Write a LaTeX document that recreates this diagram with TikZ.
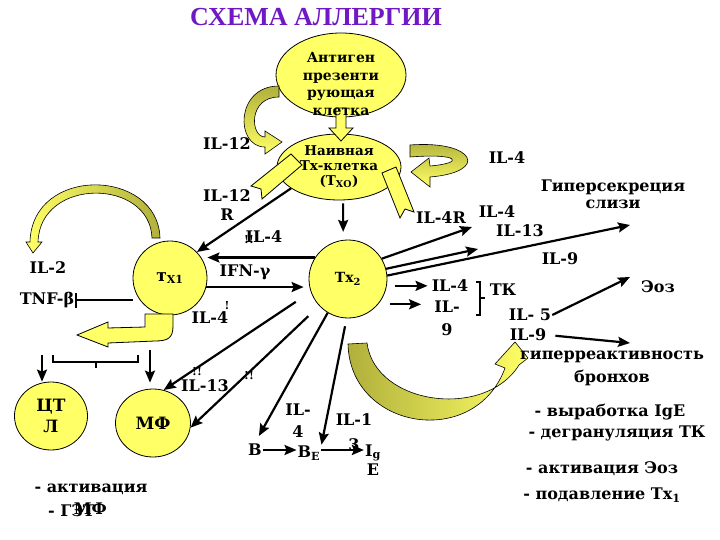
\documentclass[tikz,border=0pt]{standalone}
\usepackage{fontspec}
\setmainfont{DejaVu Serif}
\newfontfamily\titlefont{Liberation Serif}
\usetikzlibrary{shapes.geometric,arrows.meta,positioning,calc}

\definecolor{cellyellow}{RGB}{255,255,102}
\definecolor{bandolive}{RGB}{176,176,60}
\definecolor{titleviolet}{RGB}{112,24,196}

\tikzset{
  cell/.style={draw=black, line width=0.8pt, fill=cellyellow, inner sep=0pt},
  band/.style={draw=black, line width=0.6pt},
  lbl/.style={font=\bfseries\fontsize{16}{19}\selectfont, inner sep=1pt, align=center},
  excl/.style={font=\bfseries\fontsize{11}{11}\selectfont, inner sep=0pt},
  arr/.style={line width=2.2pt, -{Stealth[length=12pt,width=10pt,inset=2pt]}},
  titletext/.style={font=\titlefont\bfseries\fontsize{26}{28}\selectfont, text=titleviolet}
}

\begin{document}
\begin{tikzpicture}[x=1pt, y=-1pt]
\useasboundingbox (0,0) rectangle (720,540);

% Title
\node[titletext] (title) at (316,17) {СХЕМА АЛЛЕРГИИ};

% APC and naive cell
\node[cell, ellipse, minimum width=130pt, minimum height=84pt] (apc) at (341,75) {};
\node[cell, ellipse, minimum width=124pt, minimum height=66pt, align=center,
  font=\bfseries\fontsize{13.5}{15}\selectfont] (naive) at (339,167) {Наивная\\Тх-клетка\\(Т\textsubscript{ХО})};
\draw[cell] (336,108) -- (346,108) -- (346,128) -- (353,128) -- (341,141) -- (329,128) -- (336,128) -- cycle;
\node[align=center, font=\bfseries\fontsize{14}{17.7}\selectfont] (apctext) at (341,84) {Антиген\\презенти\\рующая\\клетка};

% curved arrows round the naive cell
\draw[band, top color=bandolive, bottom color=cellyellow] (279,86) .. controls (235,86) and (235,147) .. (265,147)
  -- (265,154) -- (282,142) -- (265,131) -- (265,137) .. controls (250,137) and (248,97) .. (279,97) -- cycle;
\draw[band, top color=bandolive, bottom color=cellyellow] (410,145) .. controls (475,140) and (490,172) .. (430,177)
  -- (430,187) -- (411,172) -- (429,158) -- (430,166) .. controls (465,163) and (460,153) .. (410,157) -- cycle;
% receptors
\draw[cell] (291,154) -- (302,165) -- (262,199) -- (261,189) -- (251,186) -- cycle;
\draw[cell] (382,173) -- (396,167) -- (414,212) -- (405,209) -- (400,218) -- cycle;

\node[lbl] (il12a) at (227,144) {IL-12};
\node[lbl] (il4a) at (507,158) {IL-4};
\node[lbl] (il12r) at (227,205) {IL-12\\R};
\node[lbl] (il4r) at (441,218) {IL-4R};

% Th1 and Th2
\node[cell, circle, minimum size=74pt, font=\bfseries\fontsize{17}{17}\selectfont] (tx1) at (170,278) {т\textsubscript{\fontsize{11}{11}\selectfont Х1}};
\node[cell, circle, minimum size=78pt, font=\bfseries\fontsize{14}{14}\selectfont] (tx2) at (348,279) {Тх\textsubscript{2}};

\draw[arr] (naive.204) -- (tx1.44);
\draw[arr, shorten <=3pt, shorten >=8pt] (naive.-83) -- (tx2.97);
\draw[arr] (tx2.147) -- (tx2.147 -| tx1.east);
\draw[arr, shorten >=5pt] (tx1.-14) -- (tx1.-14 -| tx2.west);

\node[lbl] (il4b) at (264,237) {IL-4};
\node[excl] (ex1) at (249,240) {!!};
\node[lbl] (ifn) at (245,272) {IFN-γ};
\node[lbl] (il4d) at (210,318) {IL-4};
\node[excl] (ex2) at (227,306) {!};

% Th1 side
\draw[band, left color=cellyellow, right color=bandolive] (160,238) .. controls (158,168) and (32,165) .. (30,242)
  -- (26,242) -- (33,253) -- (42,242) -- (38,242) .. controls (40,177) and (150,178) .. (152,238) -- cycle;
\node[lbl] (il2) at (48,268) {IL-2};
\node[lbl] (tnf) at (47,300) {TNF-β};
\draw[line width=1.2pt, {Bar[width=15pt]}-] (tnf.east) -- (tnf.east -| tx1.west);
\draw[cell] (145,314) -- (173,314) -- (173,326) .. controls (173,338) and (168,341) .. (155,341) -- (108,343)
  -- (108,347) -- (77,335) -- (108,322) -- (108,328) -- (145,327) -- cycle;
\draw[line width=1.4pt] (53,355) -- (53,362) -- (138,362) -- (138,355) (96,362) -- (96,368);

\node[cell, ellipse, minimum width=73pt, minimum height=68pt, align=center,
  font=\bfseries\fontsize{17}{21}\selectfont] (ctl) at (51,416) {ЦТ\\Л};
\node[cell, ellipse, minimum width=75pt, minimum height=68pt,
  font=\bfseries\fontsize{17}{17}\selectfont] (mf) at (153,423) {МФ};
\coordinate (ctlin) at (42,355);
\coordinate (mfin) at (150,350);
\draw[arr] (ctlin) -- (ctlin |- ctl.north);
\draw[arr, shorten >=6pt] (mfin) -- (mfin |- mf.north);

% Th2 to the lower left
\node[lbl] (b) at (255,450) {B};
\node[lbl] (be) at (309,453) {B\textsubscript{E}};
\node[lbl] (ig) at (373,453) {I\textsubscript{g}};
\node[lbl] (ige) at (373,470) {E};
\draw[arr, shorten <=18pt] (tx2.199) -- (mf.72);
\draw[arr, shorten <=15pt] (tx2.223) -- (mf.-7);
\draw[arr, shorten >=8pt] (tx2.239) -- (b.north);
\draw[arr, shorten <=8pt] (tx2.268) -- (be.north east);
\draw[arr] (b.east) -- (b.east -| be.west);
\draw[arr] (b.east -| be.east) -- (b.east -| ig.west);

\node[lbl] (il13a) at (205,386) {IL-13};
\node[excl] (ex3) at (197,372) {!!};
\node[excl] (ex4) at (249,376) {!!};
\node[lbl, font=\bfseries\fontsize{16}{22}\selectfont] (il4e) at (298,421) {IL-\\4};
\node[lbl, font=\bfseries\fontsize{16}{25}\selectfont] (il13b) at (354,432) {IL-1\\3};

% Th2 to the right
\node[lbl] (il4f) at (497,212) {IL-4};
\node[lbl] (il13c) at (520,231) {IL-13};
\node[lbl] (il9a) at (560,259) {IL-9};
\node[lbl, font=\bfseries\fontsize{16}{17}\selectfont] (mucus) at (613,194) {Гиперсекреция\\слизи};
\coordinate (t1) at (472,227);
\coordinate (t2) at (478,249);
\coordinate (t3) at (630,225);
\draw[arr] (tx2.31) -- (t1);
\draw[arr] (tx2.15) -- (t2);
\draw[arr] (tx2.5) -- (t3);

\node[lbl] (il4c) at (450,286) {IL-4};
\node[lbl, font=\bfseries\fontsize{16}{23}\selectfont] (il9c) at (447,318) {IL-\\9};
\draw[arr, shorten <=8pt, shorten >=3pt] (tx2.-10) -- (tx2.-10 -| il4c.west);
\draw[arr, shorten <=12pt, shorten >=12pt] (tx2.-40) -- (tx2.-40 -| il9c.west);
\draw[line width=1.2pt] (476,282) -- (480,282) -- (480,315) -- (476,315) (480,298) -- (485,298);
\node[lbl] (tk) at (503,290) {ТК};

\node[lbl] (il5) at (530,315) {IL- 5};
\node[lbl] (il9d) at (528,335) {IL-9};
\node[lbl] (eoz) at (658,287) {Эоз};
\coordinate (t4) at (630,277);
\coordinate (t5) at (630,343);
\draw[arr] (il5.east) -- (t4);
\draw[arr, shorten <=8pt] (il9d.east) -- (t5);

% big curved arrow
\draw[band, left color=bandolive, right color=cellyellow] (348,344) .. controls (350,430) and (475,450) .. (505,368)
  -- (495,364) -- (515,342) -- (528,358) -- (519,365) .. controls (485,420) and (375,405) .. (367,343) -- cycle;
\node[lbl, font=\bfseries\fontsize{16}{23}\selectfont] (hyper) at (612,368) {гиперреактивность\\бронхов};

% effects
\node[lbl] (e1) at (610,412) {- выработка IgE};
\node[lbl] (e2) at (617,433) {- дегрануляция ТК};
\node[lbl] (e3) at (602,469) {- активация Эоз};
\node[lbl] (e4) at (602,495) {- подавление Тх\textsubscript{1}};
\node[lbl] (a1) at (91,489) {- активация};
\node[lbl, anchor=west] (a2) at (47,511) {- ГЗТ};
\node[lbl, anchor=east] (a3) at (108,509) {МФ};
\end{tikzpicture}
\end{document}
